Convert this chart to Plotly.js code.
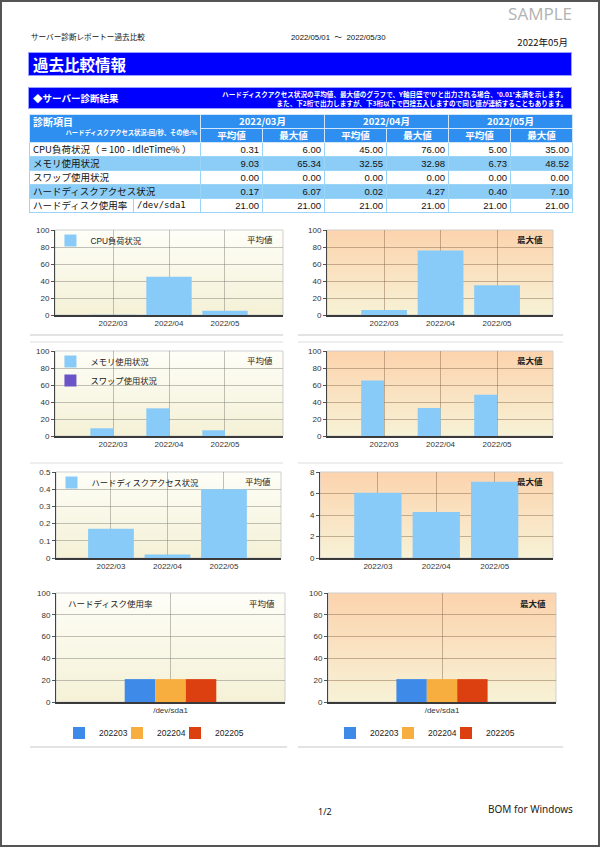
<!DOCTYPE html>
<html><head><meta charset="utf-8">
<script src="https://cdn.plot.ly/plotly-3.0.1.min.js"></script>
<style>
html,body{margin:0;padding:0;background:#fff;}
#page{position:relative;width:600px;height:847px;overflow:hidden;background:#fff;font-family:"Noto Sans CJK JP","Noto Sans",sans-serif;color:#111;}
.abs{position:absolute;white-space:nowrap;}
.frame{position:absolute;left:0;top:0;width:600px;height:847px;box-sizing:border-box;border:2px solid #555;pointer-events:none;z-index:10;}
.banner{position:absolute;left:28px;width:544px;background:#0000ff;color:#fff;box-sizing:border-box;border:1px solid #9aa0ff;}
.sep{position:absolute;height:2px;background:#e3e3e3;}
#tbl{position:absolute;left:29px;top:114px;border-collapse:collapse;table-layout:fixed;width:543px;font-family:"Liberation Sans","Noto Sans CJK JP",sans-serif;}
#tbl td{height:13px;padding:0 3px;border:1px solid #9ad4f7;font-size:9.5px;line-height:13px;white-space:nowrap;overflow:hidden;}
#tbl td.h{background:#2e8ff0;color:#fff;font-weight:bold;text-align:center;border-color:#cfe6fb;font-family:"Noto Sans CJK JP",sans-serif;}
#tbl td.lab{font-family:"Noto Sans CJK JP",sans-serif;}
#tbl td.num{text-align:right;}
#tbl tr.alt td{background:#8bcdf7;}
.chart{position:absolute;}
</style></head><body>
<div id="page">
  <div class="abs" style="right:28px;top:2px;font-family:'Open Sans','Noto Sans',sans-serif;font-size:17px;color:#b2b2b2;">SAMPLE</div>
  <div class="abs" style="left:31px;top:31px;font-size:7.6px;">サーバー診断レポートー過去比較</div>
  <div class="abs" style="left:291px;top:31px;font-size:7.8px;font-family:'Liberation Sans','Noto Sans CJK JP',sans-serif;">2022/05/01&nbsp;&nbsp;～&nbsp;&nbsp;2022/05/30</div>
  <div class="abs" style="right:32px;top:35px;font-size:9.5px;">2022年05月</div>
  <div class="banner" style="top:52px;height:24px;"><div class="abs" style="left:4px;top:1px;font-size:15.5px;font-weight:bold;line-height:20px;">過去比較情報</div></div>
  <div class="banner" style="top:87px;height:22px;">
    <div class="abs" style="left:4px;top:3px;font-size:9.5px;font-weight:bold;line-height:14px;">◆サーバー診断結果</div>
    <div class="abs" style="right:4px;top:2px;font-size:6.6px;font-weight:bold;line-height:8.6px;text-align:right;">ハードディスクアクセス状況の平均値、最大値のグラフで、Y軸目盛で'0'と出力される場合、'0.01'未満を示します。<br>また、下2桁で出力しますが、下3桁以下で四捨五入しますので同じ値が連続することもあります。</div>
  </div>
  <table id="tbl"></table>

  <div class="sep" style="left:30px;top:334px;width:253px;"></div>
  <div class="sep" style="left:298px;top:334px;width:265px;"></div>
  <div class="sep" style="left:30px;top:341px;width:253px;background:#eeeeee;"></div>
  <div class="sep" style="left:298px;top:341px;width:265px;background:#eeeeee;"></div>
  <div class="sep" style="left:30px;top:462px;width:253px;background:#eeeeee;"></div>
  <div class="sep" style="left:298px;top:462px;width:265px;background:#eeeeee;"></div>
  <div class="sep" style="left:30px;top:746px;width:257px;"></div>
  <div class="sep" style="left:298px;top:746px;width:265px;"></div>

  <div id="c1" class="chart"></div><div id="c2" class="chart"></div>
  <div id="c3" class="chart"></div><div id="c4" class="chart"></div>
  <div id="c5" class="chart"></div><div id="c6" class="chart"></div>
  <div id="c7" class="chart"></div><div id="c8" class="chart"></div>

  <div class="abs" style="left:318px;top:805px;font-size:9px;font-family:'Noto Sans',sans-serif;">1/2</div>
  <div class="abs" style="left:488px;top:802px;font-size:10px;font-family:'Noto Sans',sans-serif;color:#222;">BOM for Windows</div>
  <div class="frame"></div>
</div>
<script>
// ---- data ----
const months = ['2022/03', '2022/04', '2022/05'];
const monthHeaders = ['2022/03月', '2022/04月', '2022/05月'];
const cpuAvg = [0.31, 45.00, 5.00];
const cpuMax = [6.00, 76.00, 35.00];
const memAvg = [9.03, 32.55, 6.73];
const memMax = [65.34, 32.98, 48.52];
const swapAvg = [0.00, 0.00, 0.00];
const swapMax = [0.00, 0.00, 0.00];
const hdAccAvg = [0.17, 0.02, 0.40];
const hdAccMax = [6.07, 4.27, 7.10];
const hdUseAvg = [21.00, 21.00, 21.00];
const hdUseMax = [21.00, 21.00, 21.00];
const diskNames = ['/dev/sda1'];
const periods = ['202203', '202204', '202205'];
const rowLabels = ['CPU負荷状況（ = 100 - IdleTime% ）', 'メモリ使用状況', 'スワップ使用状況', 'ハードディスクアクセス状況', 'ハードディスク使用率'];

// ---- table ----
(function(){
  const rows = [[cpuAvg, cpuMax], [memAvg, memMax], [swapAvg, swapMax], [hdAccAvg, hdAccMax], [hdUseAvg, hdUseMax]];
  let h = '<colgroup><col style="width:104px"><col style="width:67px">' + '<col style="width:62px">'.repeat(6) + '</colgroup>';
  h += '<tr><td class="h" rowspan="2" colspan="2" style="text-align:left;vertical-align:top;padding:1px 3px 0 3px;line-height:10px;">'
     + '<div style="font-size:10px;line-height:12px;">診断項目</div>'
     + '<div style="font-size:6.3px;line-height:9px;text-align:right;font-weight:bold;">ハードディスクアクセス状況:回/秒、その他:%</div></td>';
  monthHeaders.forEach(m => { h += '<td class="h" colspan="2" style="font-size:9.5px;">' + m + '</td>'; });
  h += '</tr><tr>';
  monthHeaders.forEach(() => { h += '<td class="h" style="font-size:9.5px;">平均値</td><td class="h" style="font-size:9.5px;">最大値</td>'; });
  h += '</tr>';
  rows.forEach((r, i) => {
    h += '<tr' + (i % 2 === 1 ? ' class="alt"' : '') + '>';
    if (i === 4) h += '<td class="lab">' + rowLabels[i] + '</td><td class="lab" style="font-family:\'DejaVu Sans Mono\',monospace;font-size:9px;">' + diskNames[0] + '</td>';
    else h += '<td class="lab" colspan="2">' + rowLabels[i] + '</td>';
    for (let k = 0; k < months.length; k++) {
      h += '<td class="num">' + r[0][k].toFixed(2) + '</td><td class="num">' + r[1][k].toFixed(2) + '</td>';
    }
    h += '</tr>';
  });
  document.getElementById('tbl').innerHTML = h;
})();

// ---- charts ----
const FONT = '"Liberation Sans", "Noto Sans CJK JP", sans-serif';
const BAR = '#88cbf8', SWAP = '#6a55c8';
const PERIOD_COLORS = ['#3d8ae8', '#f8ae3f', '#dd4010'];
function grad(top, bottom) {
  const svg = '<svg xmlns="http://www.w3.org/2000/svg" width="100" height="100" viewBox="0 0 100 100" preserveAspectRatio="none">'
    + '<defs><linearGradient id="g" x1="0" y1="0" x2="0" y2="1"><stop offset="0" stop-color="' + top + '"/><stop offset="1" stop-color="' + bottom + '"/></linearGradient></defs>'
    + '<rect width="100" height="100" fill="url(#g)"/></svg>';
  return 'data:image/svg+xml;charset=utf-8,' + encodeURIComponent(svg);
}
const BG_AVG = grad('#fefef8', '#f4f1d6');
const BG_MAX = grad('#fcd3ad', '#f7f2d6');

function monthTraces(series) {
  return series.map(s => ({type: 'bar', x: months, y: s.y, name: s.name, marker: {color: s.color, line: {width: 0}}, showlegend: true}));
}
function diskTraces(vals) {
  const t = periods.map((p, i) => ({type: 'bar', x: diskNames, y: [vals[i]], name: p, marker: {color: PERIOD_COLORS[i], line: {width: 0}}}));
  // blank spacer legend entry so the last label is not clipped
  t.push({type: 'scatter', mode: 'markers', x: diskNames, y: [null], name: '\u00a0', marker: {color: 'rgba(0,0,0,0)', size: 1, line: {width: 0}}, showlegend: true});
  return t;
}

const charts = [
  {id: 'c1', box: [55, 230, 283, 315], xr: [-1.036, 3.036], yr: [0, 100], dtick: 20, bg: BG_AVG, tag: '平均値', bold: false,
   traces: monthTraces([{y: cpuAvg, name: 'CPU負荷状況', color: BAR}]), legend: 'top'},
  {id: 'c2', box: [327, 230, 553, 315], xr: [-1.01, 2.99], yr: [0, 100], dtick: 20, bg: BG_MAX, tag: '最大値', bold: true,
   traces: monthTraces([{y: cpuMax, name: 'CPU負荷状況', color: BAR}]), legend: null},
  {id: 'c3', box: [55, 351, 283, 436], xr: [-1.036, 3.036], yr: [0, 100], dtick: 20, bg: BG_AVG, tag: '平均値', bold: false,
   traces: monthTraces([{y: memAvg, name: 'メモリ使用状況', color: BAR}, {y: swapAvg, name: 'スワップ使用状況', color: SWAP}]), legend: 'top'},
  {id: 'c4', box: [327, 351, 553, 436], xr: [-1.01, 2.99], yr: [0, 100], dtick: 20, bg: BG_MAX, tag: '最大値', bold: true,
   traces: monthTraces([{y: memMax, name: 'メモリ使用状況', color: BAR}, {y: swapMax, name: 'スワップ使用状況', color: SWAP}]), legend: null},
  {id: 'c5', box: [56, 472, 281, 558], xr: [-0.973, 3.009], yr: [0, 0.50001], dtick: 0.1, bg: BG_AVG, tag: '平均値', bold: false,
   traces: monthTraces([{y: hdAccAvg, name: 'ハードディスクアクセス状況', color: BAR}]), legend: 'top'},
  {id: 'c6', box: [320, 472, 553, 558], xr: [-0.991, 2.999], yr: [0, 8], dtick: 2, bg: BG_MAX, tag: '最大値', bold: true,
   traces: monthTraces([{y: hdAccMax, name: 'ハードディスクアクセス状況', color: BAR}]), legend: null},
  {id: 'c7', box: [56, 593, 285, 702], xr: [-0.5, 0.5], yr: [0, 100], dtick: 20, bg: BG_AVG, tag: '平均値', bold: false,
   traces: diskTraces(hdUseAvg), legend: 'bottom', title: 'ハードディスク使用率', gap: 0.6},
  {id: 'c8', box: [328, 593, 556, 702], xr: [-0.5, 0.5], yr: [0, 100], dtick: 20, bg: BG_MAX, tag: '最大値', bold: true,
   traces: diskTraces(hdUseMax), legend: 'bottom', gap: 0.6}
];

charts.forEach(c => {
  const [x0, y0, x1, y1] = c.box;
  const m = {l: 36, r: 6, t: c.legend === 'top' ? 20 : 8, b: c.legend === 'bottom' ? 54 : 20};
  const W = x1 - x0 + m.l + m.r, H = y1 - y0 + m.t + m.b;
  const el = document.getElementById(c.id);
  el.style.left = (x0 - m.l) + 'px'; el.style.top = (y0 - m.t) + 'px';
  el.style.width = W + 'px'; el.style.height = H + 'px';
  const ph = y1 - y0, pw = x1 - x0;
  const grid = c.bg === BG_MAX ? 'rgba(130,100,70,0.45)' : 'rgba(120,120,110,0.45)';
  const ann = [{text: c.bold ? '<b>' + c.tag + '</b>' : c.tag, xref: 'paper', yref: 'paper', x: 0.965, y: 0.985, xanchor: 'right', yanchor: 'top',
    showarrow: false, font: {size: 8.5, color: '#222', family: '"Noto Sans CJK JP", sans-serif'}}];
  if (c.title) ann.push({text: c.title, xref: 'paper', yref: 'paper', x: 0.045, y: 0.985, xanchor: 'left', yanchor: 'top',
    showarrow: false, font: {size: 8.5, color: '#222', family: '"Noto Sans CJK JP", sans-serif'}});
  let legend = {};
  if (c.legend === 'top') legend = {x: -0.02, y: 1 + 4 / ph, xanchor: 'left', yanchor: 'top', bgcolor: 'rgba(0,0,0,0)', font: {size: 8.3, color: '#222'}, itemclick: false, tracegroupgap: 0};
  if (c.legend === 'bottom') legend = {orientation: 'h', x: 10 / pw, y: -31 / ph, xanchor: 'left', yanchor: 'middle', bgcolor: 'rgba(0,0,0,0)', font: {size: 8.5, color: '#222'}, entrywidth: 13, entrywidthmode: 'pixels'};
  const layout = {
    width: W, height: H, margin: m,
    paper_bgcolor: 'rgba(0,0,0,0)', plot_bgcolor: 'rgba(0,0,0,0)',
    font: {family: FONT, size: 8, color: '#333'},
    barmode: 'group', bargap: c.gap || 0.19, bargroupgap: 0,
    showlegend: !!c.legend, legend: legend,
    xaxis: {type: 'category', range: c.xr, showgrid: true, gridcolor: grid, gridwidth: 1, showline: true, linecolor: '#3a3a3a', linewidth: 1.5,
      ticks: '', tickfont: {size: 8, color: '#333'}, zeroline: false, fixedrange: true},
    yaxis: {range: c.yr, tick0: 0, dtick: c.dtick, showgrid: true, gridcolor: grid, gridwidth: 1, showline: true, linecolor: '#444', linewidth: 1,
      ticks: 'outside', ticklen: 3, tickcolor: '#555', tickfont: {size: 8, color: '#333'}, zeroline: false, fixedrange: true},
    images: [{source: c.bg, xref: 'paper', yref: 'paper', x: 0, y: 1, sizex: 1, sizey: 1, sizing: 'stretch', xanchor: 'left', yanchor: 'top', layer: 'below'}],
    shapes: [{type: 'rect', xref: 'paper', yref: 'paper', x0: 0, x1: 1, y0: 0, y1: 1, line: {color: '#cfcfcf', width: 1}, layer: 'below'}],
    annotations: ann
  };
  Plotly.newPlot(el, c.traces, layout, {staticPlot: true, displayModeBar: false});
});
</script>
</body></html>
